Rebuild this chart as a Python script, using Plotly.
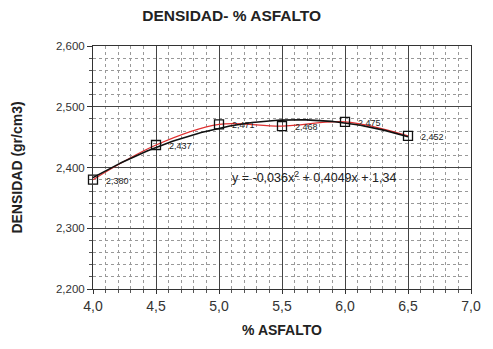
import numpy as np
import plotly.graph_objects as go

asfalto = [4.0, 4.5, 5.0, 5.5, 6.0, 6.5]
densidad = [2.380, 2.437, 2.471, 2.468, 2.475, 2.452]
labels = [f"{v:.3f}".replace(".", ",") for v in densidad]
equation = "y = -0,036x<sup>2</sup> + 0,4049x + 1,34"

coef = np.polyfit(asfalto, densidad, 2)
xt = np.linspace(min(asfalto), max(asfalto), 100)
yt = np.polyval(coef, xt)

font = "Liberation Sans, Arial, sans-serif"
fig = go.Figure()
fig.add_trace(go.Scatter(x=asfalto, y=densidad, mode="lines", line=dict(color="#e03030", width=1.2, shape="spline"),
                         showlegend=False, hoverinfo="skip"))
fig.add_trace(go.Scatter(x=xt, y=yt, mode="lines", line=dict(color="#111111", width=1.6),
                         showlegend=False, hoverinfo="skip"))
fig.add_trace(go.Scatter(x=asfalto, y=densidad, mode="markers",
                         marker=dict(symbol="square-open", size=9, color="#111", line=dict(width=1.3)),
                         showlegend=False, cliponaxis=False))
for xv, yv, lab in zip(asfalto, densidad, labels):
    fig.add_annotation(x=xv, y=yv, xref="x", yref="y", text=lab, showarrow=False,
                       xanchor="left", yanchor="middle", xshift=11, yshift=-1,
                       font=dict(size=9, color="#222", family=font))
fig.add_annotation(x=5.756, y=2.384, xref="x", yref="y", text=equation, showarrow=False,
                   font=dict(size=12.5, color="#222", family=font))

fig.update_layout(
    width=493, height=349, margin=dict(l=93, r=14, t=46, b=60),
    paper_bgcolor="white", plot_bgcolor="white", separators=",.",
    title=dict(text="<b>DENSIDAD- % ASFALTO</b>", x=0.47, xanchor="center", y=0.955, yanchor="middle",
               font=dict(size=15.5, color="#222", family=font)),
    font=dict(family=font, color="#222"),
)
fig.update_xaxes(range=[4.0, 7.0], dtick=0.5, tickformat=".1f", tickfont=dict(size=14, color="#333"),
                 showgrid=True, gridcolor="#444", gridwidth=1,
                 minor=dict(dtick=0.1, showgrid=True, gridcolor="#999", griddash="dot", ticks="outside", ticklen=3, tickcolor="#555"),
                 ticks="outside", ticklen=4, tickcolor="#333",
                 showline=True, linecolor="#333", linewidth=1, mirror=True, zeroline=False,
                 title=dict(text="<b>% ASFALTO</b>", font=dict(size=14, family=font, color="#222"), standoff=12))
fig.update_yaxes(range=[2.2, 2.6], dtick=0.1, tickformat=".3f", tickfont=dict(size=11.5, color="#333"),
                 showgrid=True, gridcolor="#444", gridwidth=1,
                 minor=dict(dtick=0.02, showgrid=True, gridcolor="#999", griddash="dot", ticks="outside", ticklen=3, tickcolor="#555"),
                 ticks="outside", ticklen=5, tickcolor="#333",
                 showline=True, linecolor="#333", linewidth=1, mirror=True, zeroline=False,
                 title=dict(text="<b>DENSIDAD (gr/cm3)</b>", font=dict(size=14, family=font, color="#222"), standoff=30))

fig.write_html("out.html")
